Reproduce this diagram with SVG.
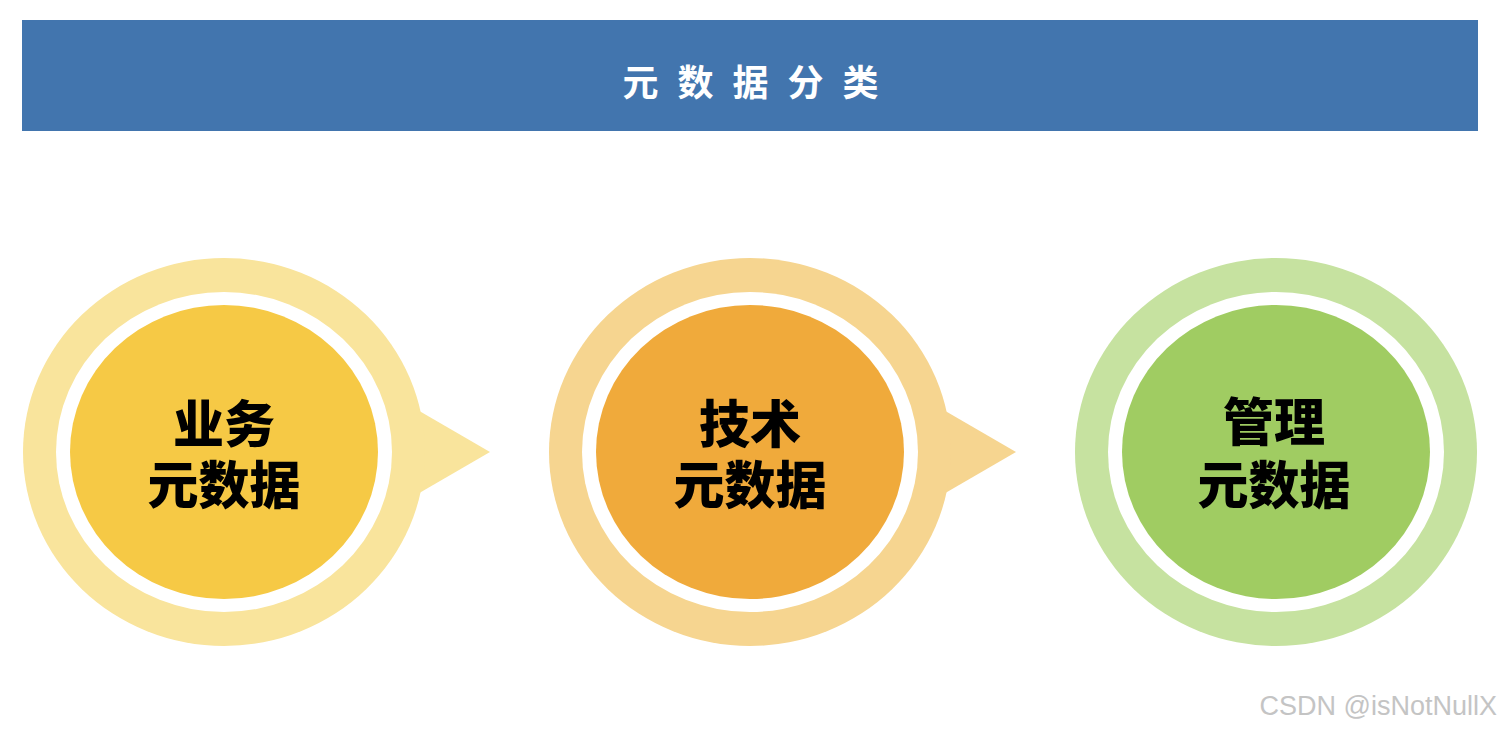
<svg xmlns="http://www.w3.org/2000/svg" width="1502" height="732" viewBox="0 0 1502 732">
  <style>
    .title { font-family: "Noto Sans CJK SC", "Noto Sans", sans-serif; font-weight: 700; font-size: 36px; fill: #ffffff; letter-spacing: 19px; }
    .label { font-family: "Noto Sans CJK SC", "Noto Sans", sans-serif; font-weight: 900; font-size: 51px; fill: #000000; text-anchor: middle; }
    .ring { fill: #ffffff; }
    .wm { font-family: "Liberation Sans", Arial, sans-serif; font-size: 27px; fill: #c4c4c4; text-anchor: end; }
  </style>
  <rect width="1502" height="732" fill="#ffffff"/>

  <g id="header">
    <rect x="22" y="20" width="1456" height="111" fill="#4275ae"/>
    <text class="title" x="760" y="80" text-anchor="middle" dominant-baseline="central">元数据分类</text>
  </g>

  <g id="node-business">
    <polygon points="409,405 490,452 409,499" fill="#f9e49c"/>
    <ellipse cx="224" cy="452" rx="201" ry="194" fill="#f9e49c"/>
    <ellipse class="ring" cx="224" cy="452" rx="168" ry="160"/>
    <ellipse cx="224" cy="452" rx="154" ry="147" fill="#f6c945"/>
    <text class="label" x="224" y="443"><tspan x="224">业务</tspan><tspan x="224" dy="61">元数据</tspan></text>
  </g>

  <g id="node-technical">
    <polygon points="935,405 1016,452 935,499" fill="#f6d590"/>
    <ellipse cx="750" cy="452" rx="201" ry="194" fill="#f6d590"/>
    <ellipse class="ring" cx="750" cy="452" rx="168" ry="160"/>
    <ellipse cx="750" cy="452" rx="154" ry="147" fill="#f0aa3b"/>
    <text class="label" x="750" y="443"><tspan x="750">技术</tspan><tspan x="750" dy="61">元数据</tspan></text>
  </g>

  <g id="node-management">
    <ellipse cx="1276" cy="452" rx="201" ry="194" fill="#c6e2a0"/>
    <ellipse class="ring" cx="1276" cy="452" rx="168" ry="160"/>
    <ellipse cx="1276" cy="452" rx="154" ry="147" fill="#a0cc62"/>
    <text class="label" x="1274" y="441"><tspan x="1274">管理</tspan><tspan x="1274" dy="63">元数据</tspan></text>
  </g>

  <g id="connectors"></g>

  <text class="wm" x="1497" y="715">CSDN @isNotNullX</text>
</svg>
